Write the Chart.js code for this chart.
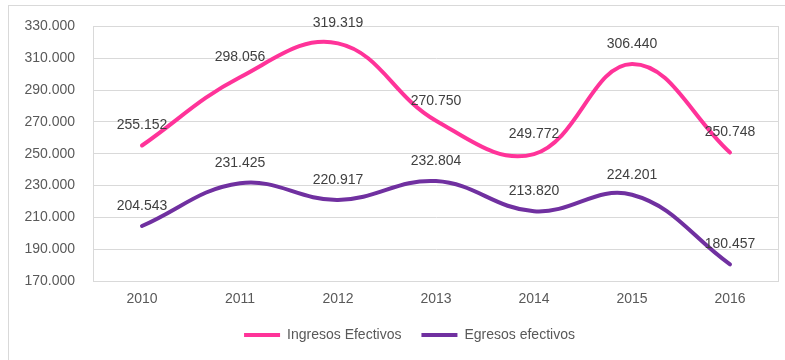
<!DOCTYPE html>
<html>
<head>
<meta charset="utf-8">
<script src="https://cdn.jsdelivr.net/npm/chart.js@4/dist/chart.umd.min.js"></script>
<style>
  html, body { margin: 0; padding: 0; background: #fff; }
  #wrap { position: relative; width: 785px; height: 360px; overflow: hidden; }
  #frame { position: absolute; left: 8px; top: 5px; width: 800px; height: 400px; border: 1px solid #D9D9D9; box-sizing: border-box; }
  #chart { position: absolute; left: 0; top: 0; }
</style>
</head>
<body>
<div id="wrap">
  <div id="frame"></div>
  <canvas id="chart" width="785" height="360"></canvas>
</div>
<script>
const YEARS = ['2010', '2011', '2012', '2013', '2014', '2015', '2016'];
const INGRESOS = [255152, 298056, 319319, 270750, 249772, 306440, 250748];
const EGRESOS = [204543, 231425, 220917, 232804, 213820, 224201, 180457];
const Y_MIN = 170000;
const Y_MAX = 330000;
const Y_STEP = 20000;

const PINK = '#FF3399';
const PURPLE = '#7030A0';
const TEXT = '#595959';
const GRID = '#D9D9D9';
const FONT = "'Liberation Sans', Arial, sans-serif";

function fmtThousands(v) {
  return String(Math.round(v)).replace(/\B(?=(\d{3})+(?!\d))/g, '.');
}

// plot frame on top/right (Excel draws a box round the plot area)
const plotBox = {
  id: 'plotBox',
  beforeDatasetsDraw(chart) {
    const { ctx, chartArea: a } = chart;
    ctx.save();
    ctx.strokeStyle = GRID;
    ctx.lineWidth = 1;
    ctx.strokeRect(Math.round(a.left) + 0.5, Math.round(a.top) + 0.5,
      Math.round(a.right - a.left) - 1, Math.round(a.bottom - a.top));
    ctx.restore();
  },
};

// value labels above each point
const valueLabels = {
  id: 'valueLabels',
  afterDatasetsDraw(chart) {
    const { ctx } = chart;
    ctx.save();
    ctx.font = `14px ${FONT}`;
    ctx.fillStyle = '#404040';
    ctx.textAlign = 'center';
    ctx.textBaseline = 'middle';
    chart.data.datasets.forEach((ds, i) => {
      chart.getDatasetMeta(i).data.forEach((pt, j) => {
        ctx.fillText(fmtThousands(ds.data[j]), pt.x, pt.y - 20);
      });
    });
    ctx.restore();
  },
};

// nudge the legend a little to the right, like the original
const legendShift = {
  id: 'legendShift',
  afterLayout(chart) {
    if (!chart.legend) return;
    chart.legend.left += 20;
    chart.legend.right += 20;
  },
};

new Chart(document.getElementById('chart'), {
  type: 'line',
  data: {
    labels: YEARS,
    datasets: [
      {
        label: 'Ingresos Efectivos',
        data: INGRESOS,
        borderColor: PINK,
        backgroundColor: PINK,
        borderWidth: 4,
        borderCapStyle: 'round',
        tension: 0.4,
        pointRadius: 0,
        pointStyle: 'line',
      },
      {
        label: 'Egresos efectivos',
        data: EGRESOS,
        borderColor: PURPLE,
        backgroundColor: PURPLE,
        borderWidth: 4,
        borderCapStyle: 'round',
        tension: 0.4,
        pointRadius: 0,
        pointStyle: 'line',
      },
    ],
  },
  options: {
    responsive: false,
    animation: false,
    clip: false,
    layout: { padding: { top: 25, right: 6, left: 0, bottom: 8 } },
    plugins: {
      tooltip: { enabled: false },
      legend: {
        position: 'bottom',
        labels: {
          color: TEXT,
          font: { size: 14, family: FONT },
          usePointStyle: true,
          pointStyleWidth: 36,
          boxWidth: 36,
          boxHeight: 4,
          padding: 20,
        },
      },
    },
    scales: {
      x: {
        offset: true,
        grid: { display: false, drawTicks: false },
        border: { display: false },
        ticks: { color: TEXT, font: { size: 14, family: FONT }, padding: 10, maxRotation: 0 },
        afterFit(scale) { scale.height = 27; },
      },
      y: {
        min: Y_MIN,
        max: Y_MAX,
        grid: { color: GRID, drawTicks: false },
        border: { display: true, color: GRID },
        ticks: {
          stepSize: Y_STEP,
          color: TEXT,
          font: { size: 14, family: FONT },
          padding: 18,
          callback: (v) => fmtThousands(v),
        },
        afterFit(scale) { scale.width = 93; },
      },
    },
  },
  plugins: [plotBox, valueLabels, legendShift],
});
</script>
</body>
</html>
